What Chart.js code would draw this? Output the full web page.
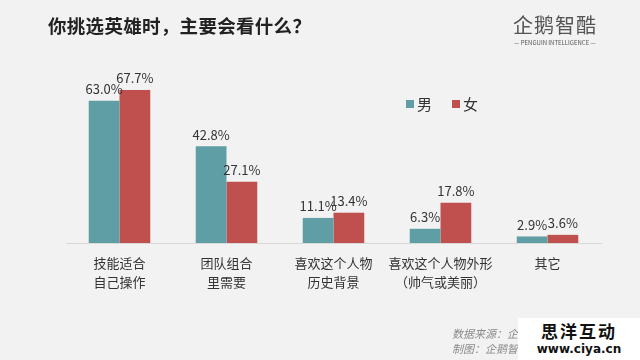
<!DOCTYPE html>
<html>
<head>
<meta charset="utf-8">
<script src="https://cdn.jsdelivr.net/npm/chart.js@4.4.1/dist/chart.umd.min.js"></script>
<style>
  html, body { margin: 0; padding: 0; width: 640px; height: 360px; overflow: hidden; background: #f2f2f2; font-family: "Noto Sans CJK SC", sans-serif; }
  #wrap { position: relative; width: 640px; height: 360px; }
  canvas { position: absolute; left: 0; top: 0; }
  .title { position: absolute; left: 48px; top: 12px; font-size: 18.5px; font-weight: bold; color: #222; letter-spacing: 0.3px; }
  .logo { position: absolute; left: 510px; top: 12px; width: 90px; text-align: center; color: #555; }
  .logo .cn { font-size: 20px; line-height: 26px; letter-spacing: 1px; }
  .logo .en { font-size: 6px; line-height: 10px; color: #555; white-space: nowrap; }
  .src { position: absolute; left: 452px; top: 326px; font-size: 11px; line-height: 15px; color: #8a8a8a; font-style: italic; }
  .wm { position: absolute; left: 518px; top: 318px; width: 122px; height: 42px; background: #fff; text-align: center; }
  .wm .a { font-size: 17px; font-weight: bold; line-height: 22px; color: #111; letter-spacing: 2px; margin-top: 2px; }
  .wm .b { font-size: 12px; font-weight: bold; line-height: 14px; color: #111; font-family: "DejaVu Sans", sans-serif; }
</style>
</head>
<body>
<div id="wrap">
  <canvas id="c" width="640" height="360"></canvas>
  <div class="title">你挑选英雄时，主要会看什么？</div>
  <div class="logo"><div class="cn">企鹅智酷</div><div class="en">— PENGUIN INTELLIGENCE —</div></div>
  <div class="src">数据来源：企鹅智酷<br>制图：企鹅智酷</div>
  <div class="wm"><div class="a">思洋互动</div><div class="b">www.ciya.cn</div></div>
</div>
<script>
const categories = [
  ["技能适合", "自己操作"],
  ["团队组合", "里需要"],
  ["喜欢这个人物", "历史背景"],
  ["喜欢这个人物外形", "（帅气或美丽）"],
  ["其它"]
];
const seriesNames = ["男", "女"];
const maleValues = [63.0, 42.8, 11.1, 6.3, 2.9];
const femaleValues = [67.7, 27.1, 13.4, 17.8, 3.6];
const colors = ["#5f9ea5", "#c0504d"];

const labelPlugin = {
  id: 'valueLabels',
  afterDatasetsDraw(chart) {
    const ctx = chart.ctx;
    ctx.save();
    ctx.font = '13px "Noto Sans CJK SC", sans-serif';
    ctx.fillStyle = '#333';
    ctx.textAlign = 'center';
    ctx.textBaseline = 'bottom';
    chart.data.datasets.forEach((ds, i) => {
      chart.getDatasetMeta(i).data.forEach((bar, j) => {
        ctx.fillText(ds.data[j].toFixed(1) + '%', bar.x, bar.y - 5);
      });
    });
    ctx.restore();
  }
};

const legendPlugin = {
  id: 'customLegend',
  afterDraw(chart) {
    const ctx = chart.ctx;
    ctx.save();
    ctx.font = '15px "Noto Sans CJK SC", sans-serif';
    ctx.textBaseline = 'middle';
    ctx.fillStyle = '#333';
    const xs = [406, 452];
    const y = 104;
    chart.data.datasets.forEach((ds, i) => {
      ctx.fillStyle = ds.backgroundColor;
      ctx.fillRect(xs[i], y - 4, 8, 8);
      ctx.fillStyle = '#333';
      ctx.fillText(ds.label, xs[i] + 11, y);
    });
    ctx.restore();
  }
};

new Chart(document.getElementById('c'), {
  type: 'bar',
  data: {
    labels: categories,
    datasets: [
      { label: seriesNames[0], data: maleValues, backgroundColor: colors[0] },
      { label: seriesNames[1], data: femaleValues, backgroundColor: colors[1] }
    ]
  },
  options: {
    responsive: false,
    animation: false,
    devicePixelRatio: 1,
    layout: { padding: { left: 66, right: 39, top: 60, bottom: 58 } },
    plugins: { legend: { display: false }, tooltip: { enabled: false } },
    datasets: { bar: { barPercentage: 1.0, categoryPercentage: 0.575 } },
    scales: {
      x: {
        grid: { display: false, drawTicks: false },
        border: { display: true, color: '#d9d9d9', width: 1 },
        ticks: { color: '#333', font: { size: 13, family: '"Noto Sans CJK SC", sans-serif', lineHeight: 1.5 }, padding: 10, maxRotation: 0, autoSkip: false }
      },
      y: { display: false, min: 0, max: 81 }
    }
  },
  plugins: [labelPlugin, legendPlugin]
});
</script>
</body>
</html>
